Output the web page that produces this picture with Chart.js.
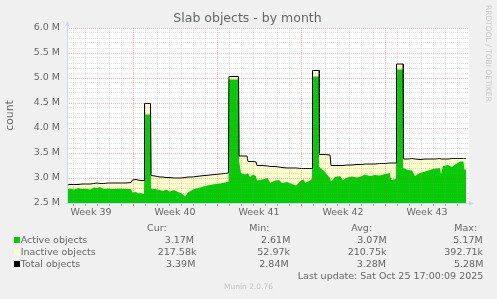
<!DOCTYPE html>
<html>
<head>
<meta charset="utf-8">
<title>Slab objects - by month</title>
<script src="https://cdn.jsdelivr.net/npm/chart.js@4/dist/chart.umd.min.js"></script>
<style>
    html, body { margin: 0; padding: 0; background: #F0F0F0; }
    body {
        width: 497px; height: 299px; position: relative; overflow: hidden;
        font-family: 'DejaVu Sans', sans-serif; color: #666666;
    }
    #graph { position: absolute; left: 0; top: 0; }
    .t { position: absolute; font-size: 9.5px; line-height: 12px; white-space: nowrap; }
    .sq { position: absolute; left: 14px; width: 6px; height: 6px; }
    #title { position: absolute; left: 0; width: 495px; top: 10px; text-align: center; font-size: 12.5px; line-height: 16px; }
    #rrd {
        position: absolute; left: 484px; top: 5px; writing-mode: vertical-rl;
        font-size: 7.5px; line-height: 9px; color: #C8C8C8; white-space: nowrap;
    }
    #munin { position: absolute; left: 0; width: 497px; top: 282px; text-align: center; font-size: 7.5px; line-height: 10px; color: #C4C4C4; }
</style>
</head>
<body>
<canvas id="graph" width="497" height="299"></canvas>

<div id="title">Slab objects - by month</div>
<div id="rrd">RRDTOOL / TOBI OETIKER</div>

<div class="t" style="left:147px;top:221.7px">Cur:</div>
<div class="t" style="left:249.3px;top:221.7px">Min:</div>
<div class="t" style="left:351.3px;top:221.7px">Avg:</div>
<div class="t" style="left:454.3px;top:221.7px">Max:</div>

<div class="sq" style="top:236.5px;background:#00CC00"></div>
<div class="t" style="left:20.7px;top:233.7px">Active objects</div>
<div class="t" style="left:164.7px;top:233.7px">3.17M</div>
<div class="t" style="left:261px;top:233.7px">2.61M</div>
<div class="t" style="left:357.3px;top:233.7px">3.07M</div>
<div class="t" style="left:453.3px;top:233.7px">5.17M</div>

<div class="sq" style="top:248.5px;background:#FFFFCC"></div>
<div class="t" style="left:20.7px;top:245.7px">Inactive objects</div>
<div class="t" style="left:157.7px;top:245.7px">217.58k</div>
<div class="t" style="left:257.3px;top:245.7px">52.97k</div>
<div class="t" style="left:347.7px;top:245.7px">210.75k</div>
<div class="t" style="left:444.3px;top:245.7px">392.71k</div>

<div class="sq" style="top:260.5px;background:#000000"></div>
<div class="t" style="left:20.7px;top:257.7px">Total objects</div>
<div class="t" style="left:166px;top:257.7px">3.39M</div>
<div class="t" style="left:259.3px;top:257.7px">2.84M</div>
<div class="t" style="left:356.7px;top:257.7px">3.28M</div>
<div class="t" style="left:454px;top:257.7px">5.28M</div>

<div class="t" style="right:13.7px;top:269.7px">Last update: Sat Oct 25 17:00:09 2025</div>
<div id="munin">Munin 2.0.76</div>

<script>
// =============================================================
// DATA (hours since start of week 39, values in millions)
// =============================================================
const hours = [
    36, 42, 50, 58, 66, 74, 82, 90, 96, 102, 110, 118, 130, 142, 154, 164,
    167, 174, 178, 184, 190, 191, 203,
    204, 212, 222, 228, 234, 242, 250, 258, 264, 272, 278, 286, 294, 302, 312, 322, 332, 342, 352, 359,
    360, 379,
    380, 384, 392, 396, 398, 402, 408, 414, 416, 426, 438, 442, 452, 460, 466, 476, 486, 494, 504, 510, 512, 520, 526,
    527, 540,
    541, 552, 562, 564, 572, 582, 588, 596, 606, 616, 626, 632, 642, 652, 662, 672, 682, 684, 694,
    695, 708,
    709, 718, 726, 732, 742, 752, 762, 772, 782, 784, 788, 798, 806, 814, 822, 829, 831, 834
];

const active = [
    2.78, 2.79, 2.77, 2.80, 2.78, 2.79, 2.77, 2.81, 2.80, 2.82, 2.78, 2.79, 2.78, 2.79, 2.78, 2.78,
    2.71, 2.72, 2.69, 2.70, 2.68, 4.27, 4.27,
    2.79, 2.78, 2.76, 2.74, 2.77, 2.73, 2.76, 2.72, 2.70, 2.63, 2.71, 2.76, 2.79, 2.81, 2.84, 2.86, 2.88, 2.89, 2.91, 2.93,
    4.97, 4.97,
    3.35, 3.10, 3.07, 3.09, 3.10, 3.02, 3.07, 3.04, 2.95, 2.97, 3.00, 2.90, 2.95, 2.96, 2.90, 2.92, 2.88, 2.85, 2.95, 2.97, 2.90, 2.94, 2.98,
    5.03, 5.03,
    3.22, 3.12, 3.00, 2.93, 3.02, 3.04, 2.96, 3.01, 3.03, 3.01, 3.04, 3.07, 3.04, 3.06, 3.05, 3.08, 3.10, 2.96, 2.98,
    5.17, 5.17,
    3.20, 3.16, 3.15, 3.04, 3.10, 3.13, 3.16, 3.19, 3.20, 3.08, 3.24, 3.26, 3.22, 3.28, 3.33, 3.33, 3.17, 3.17
];

const total = [
    2.86, 2.87, 2.87, 2.87, 2.88, 2.88, 2.88, 2.89, 2.90, 2.89, 2.89, 2.90, 2.90, 2.90, 2.90, 2.91,
    2.96, 2.97, 2.96, 2.95, 2.95, 4.49, 4.49,
    3.05, 3.04, 3.02, 3.02, 3.01, 3.01, 3.00, 3.00, 3.00, 3.01, 3.02, 3.02, 3.03, 3.04, 3.05, 3.06, 3.07, 3.08, 3.09, 3.10,
    5.03, 5.03,
    3.44, 3.44, 3.44, 3.44, 3.33, 3.33, 3.33, 3.32, 3.25, 3.25, 3.24, 3.23, 3.23, 3.22, 3.21, 3.20, 3.20, 3.20, 3.19, 3.19, 3.19, 3.19, 3.19,
    5.15, 5.15,
    3.47, 3.47, 3.46, 3.25, 3.25, 3.25, 3.25, 3.26, 3.26, 3.27, 3.27, 3.28, 3.28, 3.28, 3.29, 3.29, 3.30, 3.30, 3.30,
    5.28, 5.28,
    3.38, 3.38, 3.39, 3.38, 3.37, 3.38, 3.38, 3.38, 3.39, 3.38, 3.38, 3.38, 3.39, 3.39, 3.39, 3.39, 3.39, 3.39
];

const weekTicks  = [84, 252, 420, 588, 756];
const weekLabels = ['Week 39', 'Week 40', 'Week 41', 'Week 42', 'Week 43'];

// =============================================================
// STYLE
// =============================================================
const FONT   = '#666666';
const GREEN  = '#00CC00';
const YELLOW = '#FFFFCC';
const AXIS   = '#CFD6F8';
const GRID   = 'rgba(150,150,150,0.32)';
const MGRID  = 'rgba(225,70,70,0.4)';
const family = "'DejaVu Sans', sans-serif";

const isMajorY = v => Math.abs(v * 2 - Math.round(v * 2)) < 1e-6;
const isWeek   = v => v % 168 === 0;

// day grid lines (every 24 h)
const dayLines = [];
for (let h = 48; h < 840; h += 24) dayLines.push(h);

// =============================================================
// PLUGINS
// =============================================================
const canvasBg = {
    id: 'canvasBg',
    beforeDraw(chart) {
        const { ctx, chartArea: a } = chart;
        ctx.save();
        ctx.fillStyle = '#FFFFFF';
        ctx.fillRect(a.left, a.top, a.right - a.left, a.bottom - a.top);
        ctx.restore();
    }
};

const axisArrows = {
    id: 'axisArrows',
    afterDraw(chart) {
        const { ctx, chartArea: a } = chart;
        const x0 = Math.round(a.left) + 0.5;
        const y0 = Math.round(a.bottom) + 0.5;
        ctx.save();
        ctx.strokeStyle = AXIS;
        ctx.fillStyle = AXIS;
        ctx.lineWidth = 1;

        ctx.beginPath();
        ctx.moveTo(x0, y0);
        ctx.lineTo(x0, a.top - 3);
        ctx.moveTo(x0 - 2, y0);
        ctx.lineTo(a.right + 2, y0);
        ctx.stroke();

        // up arrow
        ctx.beginPath();
        ctx.moveTo(x0 - 2.5, a.top - 2);
        ctx.lineTo(x0, a.top - 7);
        ctx.lineTo(x0 + 2.5, a.top - 2);
        ctx.closePath();
        ctx.fill();

        // right arrow
        ctx.beginPath();
        ctx.moveTo(a.right, y0 - 2.5);
        ctx.lineTo(a.right + 5, y0);
        ctx.lineTo(a.right, y0 + 2.5);
        ctx.closePath();
        ctx.fill();
        ctx.restore();
    }
};

// =============================================================
// CHART
// =============================================================
new Chart(document.getElementById('graph'), {
    type: 'line',
    data: {
        datasets: [
            {
                label: 'Total objects',
                data: hours.map((h, i) => ({ x: h, y: total[i] })),
                borderColor: '#000000',
                borderWidth: 1,
                backgroundColor: YELLOW,
                fill: '+1',
                pointRadius: 0,
                tension: 0
            },
            {
                label: 'Active objects',
                data: hours.map((h, i) => ({ x: h, y: active[i] })),
                borderColor: GREEN,
                borderWidth: 1,
                backgroundColor: GREEN,
                fill: 'origin',
                pointRadius: 0,
                tension: 0
            }
        ]
    },
    options: {
        responsive: false,
        animation: false,
        events: [],
        layout: { padding: { top: 28, right: 28, bottom: 77, left: 0 } },
        plugins: {
            legend: { display: false },
            tooltip: { enabled: false },
            title: { display: false }
        },
        scales: {
            x: {
                type: 'linear',
                position: 'bottom',
                weight: 0,
                min: 36,
                max: 840,
                afterBuildTicks: s => { s.ticks = dayLines.map(v => ({ value: v })); },
                afterFit: s => { s.height = 3; },
                ticks: { display: false, autoSkip: false },
                grid: {
                    z: 1,
                    color: c => isWeek(c.tick.value) ? MGRID : GRID,
                    tickColor: c => isWeek(c.tick.value) ? 'rgba(220,60,60,0.7)' : 'rgba(140,140,140,0.6)',
                    drawTicks: true,
                    tickLength: 3
                },
                border: { display: false, dash: [1, 1] }
            },
            x2: {
                type: 'linear',
                position: 'bottom',
                weight: 1,
                min: 36,
                max: 840,
                afterBuildTicks: s => { s.ticks = weekTicks.map(v => ({ value: v })); },
                afterFit: s => { s.height = 16; },
                ticks: {
                    autoSkip: false,
                    maxRotation: 0,
                    padding: 1,
                    color: FONT,
                    font: { family, size: 9.5 },
                    callback: (v, i) => weekLabels[i]
                },
                grid: { display: false, drawTicks: false },
                border: { display: false }
            },
            y: {
                min: 2.5,
                max: 6.0,
                afterFit: s => { s.width = 67; },
                title: {
                    display: true,
                    text: 'count',
                    color: FONT,
                    font: { family, size: 10.8 },
                    padding: { top: 4, bottom: 0 }
                },
                ticks: {
                    stepSize: 0.1,
                    autoSkip: false,
                    padding: 7,
                    color: FONT,
                    font: { family, size: 9.5 },
                    callback: v => isMajorY(v) ? v.toFixed(1) + ' M' : ''
                },
                grid: {
                    z: 1,
                    color: c => isMajorY(c.tick.value) ? MGRID : GRID,
                    drawTicks: false
                },
                border: { display: false, dash: [1, 1] }
            }
        }
    },
    plugins: [canvasBg, axisArrows]
});
</script>
</body>
</html>
